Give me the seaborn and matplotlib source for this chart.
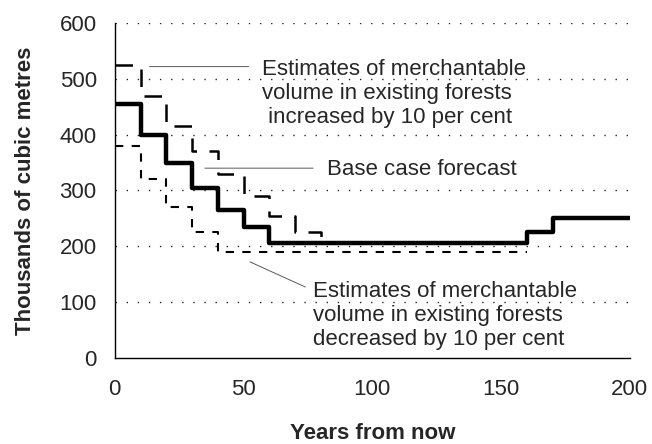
import matplotlib
matplotlib.use('Agg')
import matplotlib.pyplot as plt
import seaborn as sns

# ------------- data ---------------------------------------------------
base_years = [0, 10, 20, 30, 40, 50, 60, 160, 170, 200]
base_vol = [455, 400, 350, 305, 265, 235, 205, 225, 250, 250]

inc_years = [0, 10, 20, 30, 40, 50, 60, 70, 80, 160, 170, 200]
inc_vol = [525, 470, 415, 370, 330, 290, 255, 225, 207, 225, 250, 250]

dec_years = [0, 10, 20, 30, 40, 160]
dec_vol = [380, 320, 270, 225, 190, 190]

y_ticks = [0, 100, 200, 300, 400, 500, 600]
x_ticks = [0, 50, 100, 150, 200]

sns.set_style('white')
plt.rcParams['font.family'] = ['Liberation Sans', 'DejaVu Sans']

fig = plt.figure(figsize=(6.52, 4.44), dpi=100)
ax = fig.add_axes([0.176, 0.194, 0.790, 0.754])

# dotted reference lines
for v in y_ticks[1:]:
    ax.axhline(v, color='0.15', lw=1.0, ls=(0, (1, 7)), zorder=1)

sns.lineplot(x=inc_years, y=inc_vol, drawstyle='steps-post', color='black',
             lw=1.8, ls=(0, (7, 5)), ax=ax, zorder=2)
sns.lineplot(x=dec_years, y=dec_vol, drawstyle='steps-post', color='black',
             lw=1.5, ls=(0, (4, 4)), ax=ax, zorder=2)
sns.lineplot(x=base_years, y=base_vol, drawstyle='steps-post', color='black',
             lw=3.2, ax=ax, zorder=3)

ax.set_xlim(0, 200)
ax.set_ylim(0, 600)
ax.set_xticks(x_ticks)
ax.set_yticks(y_ticks)
ax.tick_params(axis='both', length=0, labelsize=16)
ax.tick_params(axis='x', pad=15)
ax.tick_params(axis='y', pad=13)

for side in ['top', 'right']:
    ax.spines[side].set_visible(False)
for side in ['left', 'bottom']:
    ax.spines[side].set_color('black')
    ax.spines[side].set_linewidth(1.0)

ax.set_xlabel('Years from now', fontsize=16, fontweight='bold', labelpad=17)
ax.set_ylabel('Thousands of cubic metres', fontsize=16, fontweight='bold', labelpad=17)

# annotations with leader lines
lead = dict(arrowstyle='-', color='0.35', lw=0.7, shrinkA=0, shrinkB=0)
ax.annotate('', xy=(13.5, 522), xytext=(52, 522), arrowprops=lead)
ax.text(57, 474, 'Estimates of merchantable\nvolume in existing forests\n increased by 10 per cent',
        fontsize=16, ha='left', va='center', linespacing=1.17)

ax.annotate('', xy=(35, 340), xytext=(77, 340), arrowprops=lead)
ax.text(82.5, 338, 'Base case forecast', fontsize=16, ha='left', va='center')

ax.annotate('', xy=(52.5, 172), xytext=(74, 127), arrowprops=lead)
ax.text(77, 76, 'Estimates of merchantable\nvolume in existing forests\ndecreased by 10 per cent',
        fontsize=16, ha='left', va='center', linespacing=1.17)

fig.savefig('out.png', dpi=100)
